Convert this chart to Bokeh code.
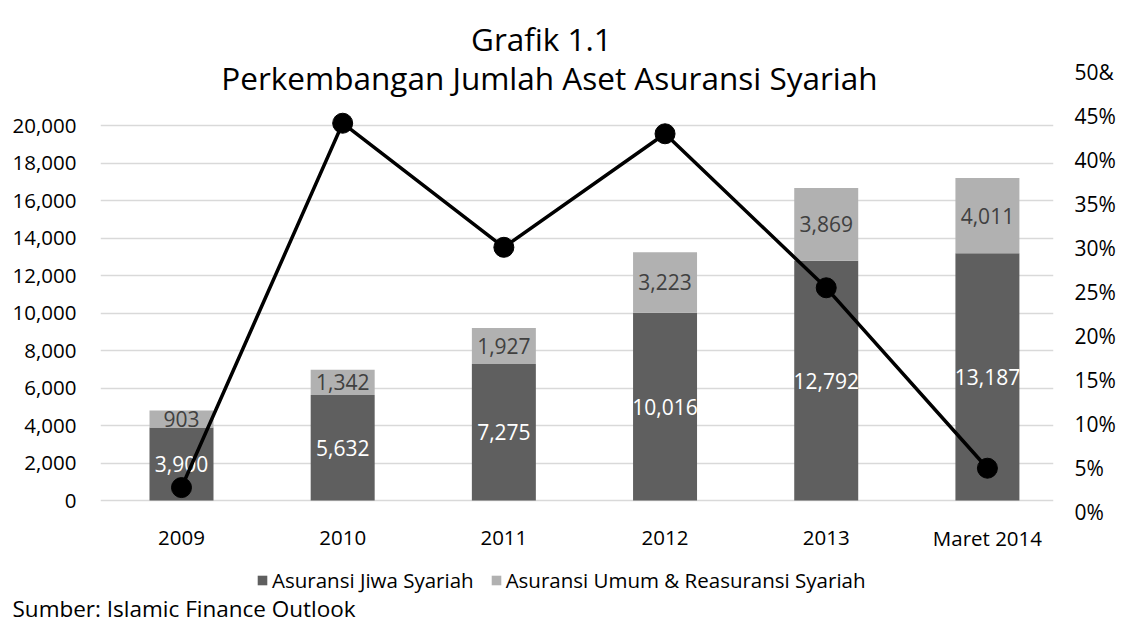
from bokeh.plotting import figure
from bokeh.models import (ColumnDataSource, Range1d, LinearAxis, FixedTicker,
                          NumeralTickFormatter, Label, Legend, LegendItem, Title)
from bokeh.core.properties import value
from bokeh.embed import file_html
from bokeh.resources import INLINE

# ---- data ----
categories = ["2009", "2010", "2011", "2012", "2013", "Maret 2014"]
jiwa = [3900, 5632, 7275, 10016, 12792, 13187]
umum = [903, 1342, 1927, 3223, 3869, 4011]
growth_pct = [2.8, 44.2, 30.1, 43.0, 25.5, 5.0]
left_ticks = [0, 2000, 4000, 6000, 8000, 10000, 12000, 14000, 16000, 18000, 20000]
right_ticks = [0, 5, 10, 15, 20, 25, 30, 35, 40, 45, 50]
right_tick_labels = ["0%", "5%", "10%", "15%", "20%", "25%", "30%", "35%", "40%", "45%", "50&"]
series_names = ["Asuransi Jiwa Syariah", "Asuransi Umum & Reasuransi Syariah"]
title_lines = ["Grafik 1.1", "Perkembangan Jumlah Aset Asuransi Syariah"]
source_note = "Sumber: Islamic Finance Outlook"

FONT = "Open Sans"
DARK = "#5f5f5f"
LIGHT = "#b1b1b1"

xs = list(range(len(categories)))
src = ColumnDataSource(dict(
    x=xs,
    jiwa=jiwa,
    umum=umum,
    jiwa_mid=[j / 2 for j in jiwa],
    umum_mid=[j + u / 2 for j, u in zip(jiwa, umum)],
    jiwa_lbl=[f"{v:,}" for v in jiwa],
    umum_lbl=[f"{v:,}" for v in umum],
    growth=growth_pct,
    cat=categories,
    cat_y=[-1973] * len(categories),
))

p = figure(width=1128, height=626, output_backend="svg", toolbar_location=None,
           x_axis_location=None,
           x_range=Range1d(-0.5025, 5.41), y_range=Range1d(-5013, 25867),
           min_border_left=100, min_border_right=75, min_border_top=15, min_border_bottom=32)
p.outline_line_color = None
p.background_fill_color = "white"
p.border_fill_color = "white"
p.extra_y_ranges = {"pct": Range1d(-9.35, 56.44)}

# left axis
p.yaxis.ticker = FixedTicker(ticks=left_ticks)
p.yaxis.formatter = NumeralTickFormatter(format="0,0")
p.yaxis.axis_line_color = None
p.yaxis.major_tick_line_color = None
p.yaxis.minor_tick_line_color = None
p.yaxis.major_label_standoff = 18
p.yaxis.major_label_text_font = FONT
p.yaxis.major_label_text_font_size = "20.5px"
p.yaxis.major_label_text_color = "#000000"

# right axis
raxis = LinearAxis(y_range_name="pct", ticker=FixedTicker(ticks=right_ticks))
raxis.major_label_overrides = {t: l for t, l in zip(right_ticks, right_tick_labels)}
raxis.axis_line_color = None
raxis.major_tick_line_color = None
raxis.minor_tick_line_color = None
raxis.major_label_standoff = 15
raxis.major_label_text_font = FONT
raxis.major_label_text_font_size = "21px"
raxis.major_label_text_color = "#000000"
p.add_layout(raxis, "right")

p.xgrid.grid_line_color = None
p.ygrid.grid_line_color = "#d9d9d9"
p.ygrid.grid_line_width = 1.5

# bars
r = p.vbar_stack(["jiwa", "umum"], x="x", width=0.397, color=[DARK, LIGHT],
                 line_color=None, source=src)

# category labels
p.text(x="x", y="cat_y", text="cat", source=src, text_color="#000000",
       text_align="center", text_baseline="middle", text_font=value(FONT),
       text_font_size="20.5px")

# labels on bars
p.text(x="x", y="jiwa_mid", text="jiwa_lbl", source=src, text_color="white",
       text_align="center", text_baseline="middle", text_font=value(FONT),
       text_font_size="21px")
p.text(x="x", y="umum_mid", text="umum_lbl", source=src, text_color="#404040",
       text_align="center", text_baseline="middle", text_font=value(FONT),
       text_font_size="21px")

# growth line
p.line(x="x", y="growth", source=src, y_range_name="pct", line_color="black", line_width=3.5)
p.scatter(x="x", y="growth", source=src, y_range_name="pct", size=20,
          fill_color="black", line_color="black")

# legend
legend = Legend(items=[LegendItem(label=series_names[0], renderers=[r[0]]),
                       LegendItem(label=series_names[1], renderers=[r[1]])],
                location=(156, 0), orientation="horizontal",
                padding=0, margin=0, spacing=16, label_standoff=4,
                glyph_width=12, glyph_height=12,
                border_line_color=None, background_fill_alpha=0,
                label_text_font=FONT, label_text_font_size="20.5px",
                label_text_color="#000000")
p.add_layout(legend, "center")

# titles
p.add_layout(Label(x=2.233, y=24640, text=title_lines[0], text_align="center",
                   text_baseline="middle", text_font=FONT, text_font_size="31.5px",
                   text_color="#000000"))
p.add_layout(Label(x=2.283, y=22560, text=title_lines[1], text_align="center",
                   text_baseline="middle", text_font=FONT, text_font_size="31.5px",
                   text_color="#000000"))

# source note
note = Title(text=source_note, align="left", offset=-88, standoff=-7,
             text_font=FONT, text_font_size="22.5px", text_font_style="normal",
             text_color="#000000")
p.add_layout(note, "below")

open("out.html", "w").write(file_html(p, INLINE))
